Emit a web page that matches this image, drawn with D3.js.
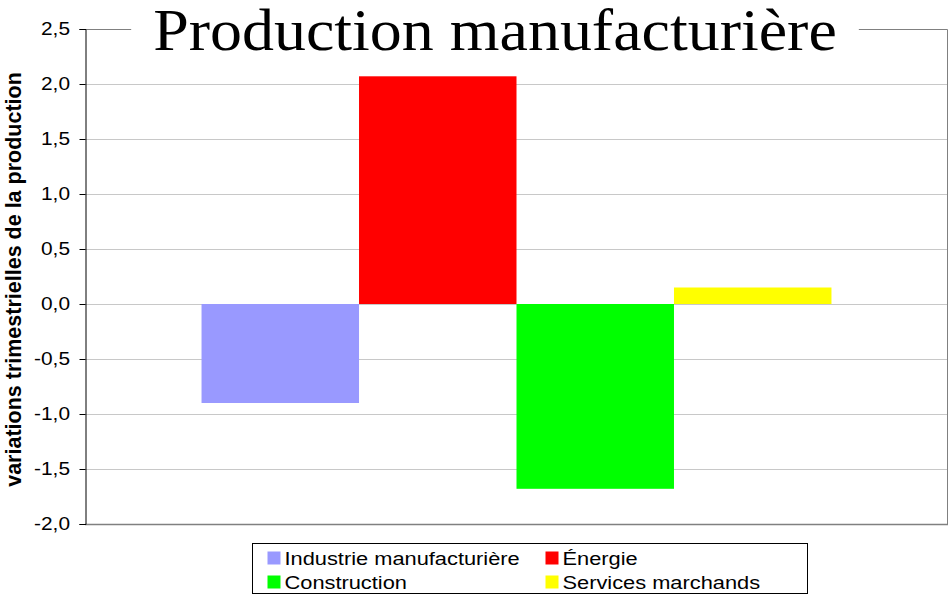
<!DOCTYPE html>
<html>
<head>
<meta charset="utf-8">
<script src="https://cdn.jsdelivr.net/npm/d3@7"></script>
<style>
  body { margin: 0; background: #fff; }
  text { font-family: "Liberation Sans", Arial, sans-serif; }
</style>
</head>
<body>
<div id="chart"></div>
<script>
var categories = ["T"];
var series = ["Industrie manufacturière", "Énergie", "Construction", "Services marchands"];
var values = [-0.9, 2.07, -1.68, 0.15];
var colors = ["#9999ff", "#ff0000", "#00ff00", "#ffff00"];
var yTicks = [2.5, 2.0, 1.5, 1.0, 0.5, 0.0, -0.5, -1.0, -1.5, -2.0];

var width = 952, height = 597;
var margin = {top: 29, right: 4, bottom: 73, left: 85};
var w = width - margin.left - margin.right;
var h = height - margin.top - margin.bottom;
var sx = 1.18; // text in the original is drawn a bit wide

var svg = d3.select("#chart")
    .append("svg")
    .attr("width", width)
    .attr("height", height);

var g = svg.append("g")
    .attr("transform", "translate(" + margin.left + "," + margin.top + ")");

var y = d3.scaleLinear()
    .domain([-2, 2.5])
    .range([h, 0]);

var x0 = d3.scaleBand()
    .domain(categories)
    .range([0, w])
    .paddingOuter(0.185)
    .paddingInner(0);

var x1 = d3.scaleBand()
    .domain(series)
    .range([0, x0.bandwidth()]);

var fmt = function(d) { return d.toFixed(1).replace(".", ","); };

// gridlines
g.selectAll(".grid")
    .data(yTicks.filter(function(d) { return d > -2 && d < 2.5; }))
    .enter()
    .append("line")
    .attr("x1", 0)
    .attr("x2", w)
    .attr("y1", function(d) { return Math.round(y(d)) + 0.5; })
    .attr("y2", function(d) { return Math.round(y(d)) + 0.5; })
    .style("stroke", "#c8c8c8")
    .style("stroke-width", 1);

// bars
g.selectAll(".bar")
    .data(values)
    .enter()
    .append("rect")
    .attr("x", function(d, i) { return x0(categories[0]) + x1(series[i]); })
    .attr("width", x1.bandwidth())
    .attr("y", function(d) { return y(Math.max(0, d)); })
    .attr("height", function(d) { return Math.abs(y(d) - y(0)); })
    .style("fill", function(d, i) { return colors[i]; });

// plot frame (top and right)
g.append("path")
    .attr("d", "M0," + (Math.round(y(2.5)) + 0.5) + "H" + (w - 0.5) + "V" + (h + 0.5))
    .style("fill", "none")
    .style("stroke", "#808080")
    .style("stroke-width", 1);

// bottom line
g.append("line")
    .attr("x1", 0).attr("x2", w)
    .attr("y1", h + 0.5).attr("y2", h + 0.5)
    .style("stroke", "#808080")
    .style("stroke-width", 1.5);

// y axis
var yAxis = d3.axisLeft(y)
    .tickValues(yTicks)
    .tickFormat(fmt)
    .tickSize(6)
    .tickPadding(9);

var ya = g.append("g")
    .attr("transform", "translate(0.5,0)")
    .call(yAxis);
ya.select(".domain").style("stroke", "#000");
ya.selectAll(".tick line").style("stroke", "#000");
ya.selectAll("text")
    .style("font-size", "17.7px")
    .attr("fill", "#000")
    .attr("x", -15.5 / sx)
    .attr("transform", "scale(" + sx + ",1)")
    .style("font-family", "'Liberation Sans', Arial, sans-serif");

// y axis title
svg.append("text")
    .attr("transform", "translate(21," + (margin.top + h / 2 + 3) + ") rotate(-90)")
    .attr("text-anchor", "middle")
    .style("font-size", "21.5px")
    .style("font-weight", "bold")
    .text("variations trimestrielles de la production");

// title with white background
var titleBg = svg.append("rect")
    .style("fill", "#fff");
var tsx = 1.066;
var title = svg.append("text")
    .attr("x", 495 / tsx)
    .attr("y", 50)
    .attr("transform", "scale(" + tsx + ",1)")
    .attr("text-anchor", "middle")
    .style("font-family", "'Liberation Serif', 'Times New Roman', serif")
    .style("font-size", "60px")
    .text("Production manufacturière");
var bb = title.node().getBBox();
titleBg
    .attr("x", bb.x * tsx - 22)
    .attr("y", 20)
    .attr("width", bb.width * tsx + 44)
    .attr("height", 20);

// legend
var legend = svg.append("g")
    .attr("transform", "translate(252.5,543.5)");
legend.append("rect")
    .attr("width", 555)
    .attr("height", 50)
    .style("fill", "#fff")
    .style("stroke", "#000")
    .style("stroke-width", 1);

var item = legend.selectAll(".item")
    .data(series)
    .enter()
    .append("g")
    .attr("transform", function(d, i) {
        return "translate(" + (15 + (i % 2) * 278) + "," + (6 + Math.floor(i / 2) * 24) + ")";
    });
item.append("rect")
    .attr("width", 13)
    .attr("height", 13)
    .attr("y", 2)
    .style("fill", function(d, i) { return colors[i]; });
item.append("text")
    .attr("x", 17 / sx)
    .attr("y", 15)
    .attr("transform", "scale(" + sx + ",1)")
    .style("font-size", "18.5px")
    .text(function(d) { return d; });
</script>
</body>
</html>
